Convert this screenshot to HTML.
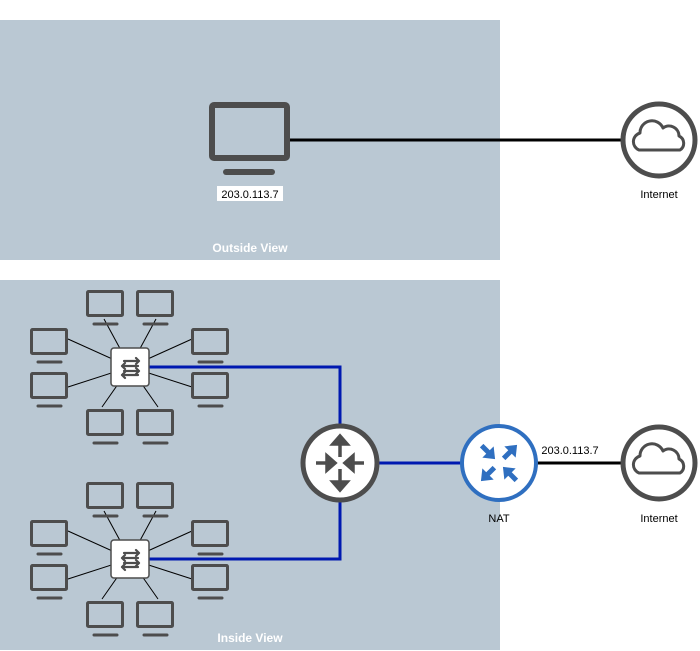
<!DOCTYPE html>
<html><head><style>body{margin:0;background:#fff}svg{display:block;font-family:"Liberation Sans",sans-serif}</style></head><body>
<svg width="700" height="651" viewBox="0 0 700 651">
<defs>
<g id="mon"><rect x="1.5" y="1.5" width="35" height="24" rx="1" fill="none" stroke="#4d4d4d" stroke-width="3"/><line x1="8" y1="34" x2="31" y2="34" stroke="#4d4d4d" stroke-width="3" stroke-linecap="round"/></g>
<g id="sw">
<line x1="0" y1="0" x2="-26" y2="-48" stroke="#000"/><line x1="0" y1="0" x2="26" y2="-48" stroke="#000"/>
<line x1="0" y1="0" x2="-62" y2="-28" stroke="#000"/><line x1="0" y1="0" x2="-62" y2="20" stroke="#000"/>
<line x1="0" y1="0" x2="62" y2="-28" stroke="#000"/><line x1="0" y1="0" x2="62" y2="20" stroke="#000"/>
<line x1="0" y1="0" x2="-28" y2="40" stroke="#000"/><line x1="0" y1="0" x2="28" y2="40" stroke="#000"/>
<use href="#mon" x="-44" y="-77"/><use href="#mon" x="6" y="-77"/>
<use href="#mon" x="-100" y="-39"/><use href="#mon" x="-100" y="5"/>
<use href="#mon" x="61" y="-39"/><use href="#mon" x="61" y="5"/>
<use href="#mon" x="-44" y="42"/><use href="#mon" x="6" y="42"/>
<rect x="-19" y="-19" width="38" height="38" rx="3" fill="#fff" stroke="#4d4d4d" stroke-width="1.5"/>
<g stroke="#4d4d4d" stroke-width="2.2" fill="none" stroke-linecap="round" stroke-linejoin="round">
<path d="M-6 -6H9M6 -9L9 -6L6 -3"/><path d="M8 -1H-8M-5 -4L-8 -1L-5 2"/>
<path d="M-6 4H9M6 1L9 4L6 7"/><path d="M8 8H-8M-5 5L-8 8L-5 11"/>
</g></g>
<g id="cloud"><circle r="36" fill="#fff" stroke="#4d4d4d" stroke-width="5"/><path d="M-20 10 a9 9 0 0 1 1-17 a12 12 0 0 1 23-5 a10 10 0 0 1 16 8 a8 8 0 0 1 1 14 z" fill="none" stroke="#4d4d4d" stroke-width="3" stroke-linejoin="round"/></g>
<g id="na"><path d="M-9 0H2" stroke="#2f6fc0" stroke-width="5"/><path d="M0 -8L10 0L0 8Z" fill="#2f6fc0"/></g>
</defs>
<rect x="0" y="20" width="500" height="240" fill="#bac8d3"/>
<rect x="0" y="280" width="500" height="370" fill="#bac8d3"/>
<line x1="288" y1="140" x2="622" y2="140" stroke="#000" stroke-width="3"/>
<rect x="212" y="105" width="75" height="53" rx="2" fill="none" stroke="#4d4d4d" stroke-width="6"/>
<line x1="226" y1="172" x2="272" y2="172" stroke="#4d4d4d" stroke-width="6" stroke-linecap="round"/>
<rect x="217" y="186" width="66" height="15" fill="#fff"/>
<text x="250" y="198" font-size="11" text-anchor="middle">203.0.113.7</text>
<use href="#cloud" x="659" y="140"/>
<text x="659" y="198" font-size="11" text-anchor="middle">Internet</text>
<text x="250" y="252" font-size="12" font-weight="bold" fill="#fff" text-anchor="middle">Outside View</text>
<g stroke="#0019b0" stroke-width="3" fill="none">
<path d="M149 367H340V425"/><path d="M149 559H340V501"/><path d="M378 463H461"/></g>
<line x1="537" y1="463" x2="622" y2="463" stroke="#000" stroke-width="3"/>
<use href="#sw" x="130" y="367"/><use href="#sw" x="130" y="559"/>
<circle cx="340" cy="463" r="37" fill="#fff" stroke="#4d4d4d" stroke-width="5"/>
<g stroke="#4d4d4d" stroke-width="3.5" fill="#4d4d4d">
<path d="M340 457V441" fill="none"/><path d="M333 444L340 436L347 444Z"/>
<path d="M340 469V485" fill="none"/><path d="M333 482L340 490L347 482Z"/>
<path d="M316 463H330" fill="none"/><path d="M327 456L335 463L327 470Z"/>
<path d="M364 463H350" fill="none"/><path d="M353 456L345 463L353 470Z"/></g>
<circle cx="499" cy="463" r="37" fill="#fff" stroke="#2f6fc0" stroke-width="4"/>
<use href="#na" transform="translate(488,452) rotate(45)"/>
<use href="#na" transform="translate(510,452) rotate(-45)"/>
<use href="#na" transform="translate(488,474) rotate(135)"/>
<use href="#na" transform="translate(510,474) rotate(-135)"/>
<text x="499" y="522" font-size="11" text-anchor="middle">NAT</text>
<text x="570" y="454" font-size="11" text-anchor="middle">203.0.113.7</text>
<use href="#cloud" x="659" y="463"/>
<text x="659" y="522" font-size="11" text-anchor="middle">Internet</text>
<text x="250" y="642" font-size="12" font-weight="bold" fill="#fff" text-anchor="middle">Inside View</text>
</svg></body></html>
